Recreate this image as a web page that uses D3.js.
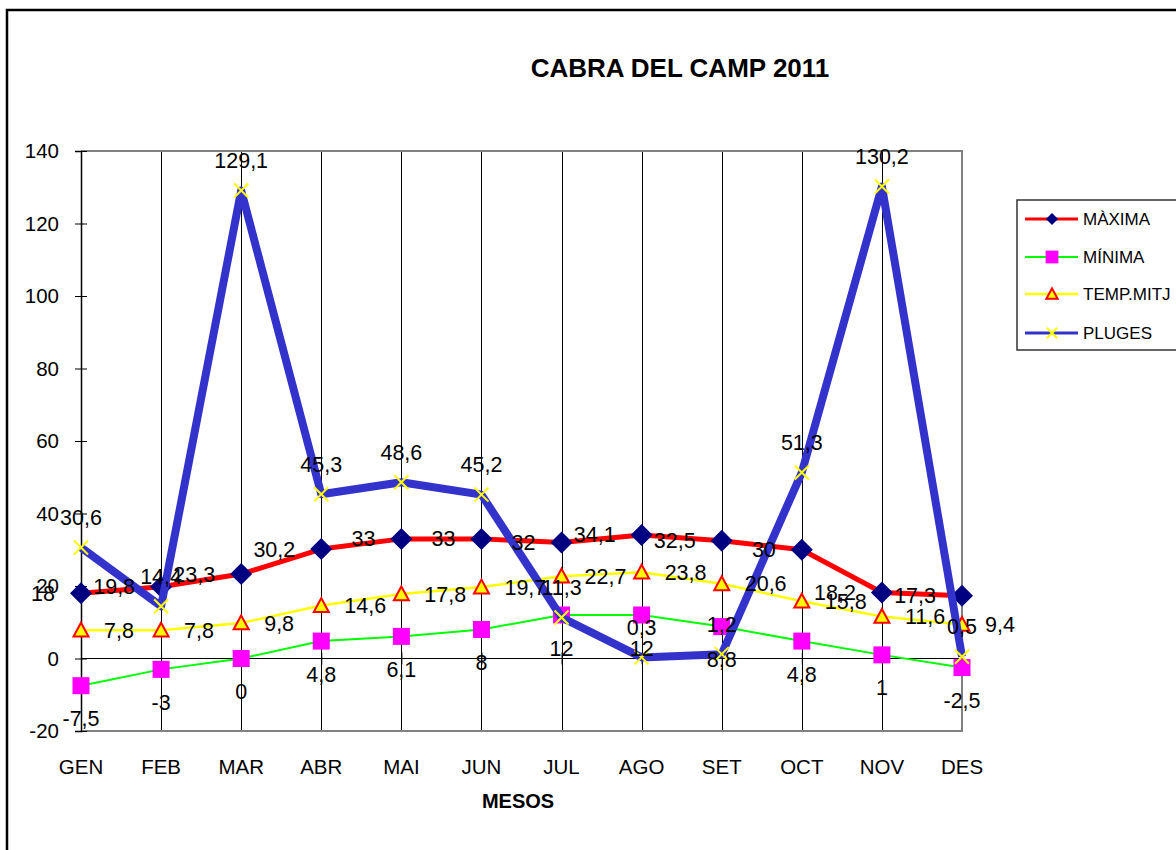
<!DOCTYPE html>
<html>
<head>
<meta charset="utf-8">
<script src="https://cdn.jsdelivr.net/npm/d3@7"></script>
<style>
  html, body { margin: 0; padding: 0; background: #fff; }
  svg { display: block; font-family: "Liberation Sans", Arial, sans-serif; }
</style>
</head>
<body>
<svg id="chart" width="1176" height="850"></svg>
<script>
const months = ["GEN","FEB","MAR","ABR","MAI","JUN","JUL","AGO","SET","OCT","NOV","DES"];
const maxima = [18, 19.8, 23.3, 30.2, 33, 33, 32, 34.1, 32.5, 30, 18.2, 17.3];
const minima = [-7.5, -3, 0, 4.8, 6.1, 8, 12, 12, 8.8, 4.8, 1, -2.5];
const tempMitj = [7.8, 7.8, 9.8, 14.6, 17.8, 19.7, 22.7, 23.8, 20.6, 15.8, 11.6, 9.4];
const pluges = [30.6, 14.4, 129.1, 45.3, 48.6, 45.2, 11.3, 0.3, 1.2, 51.3, 130.2, 0.5];
const yTicks = [-20, 0, 20, 40, 60, 80, 100, 120, 140];
const seriesNames = ["MÀXIMA", "MÍNIMA", "TEMP.MITJ", "PLUGES"];
const titleText = "CABRA DEL CAMP 2011";
const xTitle = "MESOS";

const svg = d3.select("#chart");
const fmt = v => String(v).replace(".", ",");

// chart area border
svg.append("rect").attr("x", 7).attr("y", 10).attr("width", 1300).attr("height", 1000)
  .attr("fill", "#fff").attr("stroke", "#000").attr("stroke-width", 2.5);

const x = d3.scalePoint().domain(months).range([81, 962]);
const y = d3.scaleLinear().domain([-20, 140]).range([731, 151]);

// title
svg.append("text").attr("x", 680).attr("y", 77).attr("text-anchor", "middle")
  .attr("font-size", 26).attr("font-weight", "bold").text(titleText);

// vertical gridlines
const g = svg.append("g");
g.selectAll("line.vg").data(months.slice(1, -1)).join("line")
  .attr("x1", d => Math.round(x(d)) + 0.5).attr("x2", d => Math.round(x(d)) + 0.5)
  .attr("y1", y(140)).attr("y2", y(-20))
  .attr("stroke", "#000").attr("stroke-width", 1);

// plot border (top, right, bottom)
g.append("path")
  .attr("d", `M${x("GEN")},${y(140)}H${x("DES")}V${y(-20)}H${x("GEN")}`)
  .attr("fill", "none").attr("stroke", "#808080").attr("stroke-width", 2);

// y axis
const yAxis = d3.axisLeft(y).tickValues(yTicks).tickSize(6).tickPadding(16).tickFormat(d => d);
const ya = svg.append("g").attr("transform", `translate(${x("GEN")},0)`).call(yAxis);
ya.select(".domain").attr("stroke", "#000").attr("stroke-width", 1.5);
ya.selectAll(".tick line").clone().attr("x2", 6);
ya.selectAll(".tick line").attr("stroke", "#000");
ya.selectAll("text").attr("font-size", 20.5).attr("fill", "#000")
  .attr("font-family", "Liberation Sans, Arial, sans-serif");

// zero line (category axis)
const xAxis = d3.axisBottom(x).tickSize(6).tickFormat("");
const xa = svg.append("g").attr("transform", `translate(0,${y(0)})`).call(xAxis);
xa.select(".domain").attr("d", `M${x("GEN")},0H${x("DES")}`).attr("stroke", "#000").attr("stroke-width", 1);
xa.selectAll(".tick line").attr("y1", -6).attr("y2", 6).attr("stroke", "#000");

// category labels
svg.append("g").selectAll("text").data(months).join("text")
  .attr("x", d => x(d)).attr("y", 767).attr("dy", "0.35em")
  .attr("text-anchor", "middle").attr("font-size", 20.5).text(d => d);

svg.append("text").attr("x", 518).attr("y", 801).attr("dy", "0.35em")
  .attr("text-anchor", "middle").attr("font-size", 20).attr("font-weight", "bold").text(xTitle);

// series definitions
const series = [
  { name: seriesNames[0], values: maxima, line: "#FF0000", lw: 5, marker: "diamond" },
  { name: seriesNames[1], values: minima, line: "#00FF00", lw: 2, marker: "square" },
  { name: seriesNames[2], values: tempMitj, line: "#FFFF00", lw: 2.5, marker: "triangle" },
  { name: seriesNames[3], values: pluges, line: "#3333CC", lw: 8, marker: "cross" }
];

function drawMarker(sel, type, cx, cy, scale) {
  const s = scale || 1;
  if (type === "diamond") {
    const r = 11 * s;
    sel.append("path").attr("d", `M${cx},${cy - r}L${cx + r},${cy}L${cx},${cy + r}L${cx - r},${cy}Z`)
      .attr("fill", "#000080");
  } else if (type === "square") {
    const h = 8.5 * s;
    sel.append("rect").attr("x", cx - h).attr("y", cy - h).attr("width", 2 * h).attr("height", 2 * h)
      .attr("fill", "#FF00FF");
  } else if (type === "triangle") {
    const r = 7.5 * s;
    sel.append("path").attr("d", `M${cx},${cy - r}L${cx + r},${cy + r * 0.85}L${cx - r},${cy + r * 0.85}Z`)
      .attr("fill", "#FFFF00").attr("stroke", "#FF0000").attr("stroke-width", 2);
  } else if (type === "cross") {
    const r = 7 * s;
    sel.append("path").attr("d", `M${cx - r},${cy - r}L${cx + r},${cy + r}M${cx - r},${cy + r}L${cx + r},${cy - r}`)
      .attr("stroke", "#FFFF00").attr("stroke-width", 2).attr("fill", "none");
  }
}

const lineGen = d3.line().x((d, i) => x(months[i])).y(d => y(d));
series.forEach(s => {
  const sg = svg.append("g");
  sg.append("path").attr("d", lineGen(s.values)).attr("fill", "none")
    .attr("stroke", s.line).attr("stroke-width", s.lw).attr("stroke-linejoin", "round");
  s.values.forEach((v, i) => drawMarker(sg, s.marker, x(months[i]), y(v)));
});

// data labels
const lg = svg.append("g").attr("font-size", 21.5).attr("fill", "#000");
// MÀXIMA: left
lg.selectAll("text.mx").data(maxima).join("text").attr("class", "mx")
  .attr("x", (d, i) => x(months[i]) - 26).attr("y", d => y(d)).attr("dy", "0.35em")
  .attr("text-anchor", "end").text(fmt);
// MÍNIMA: below
lg.selectAll("text.mn").data(minima).join("text").attr("class", "mn")
  .attr("x", (d, i) => x(months[i])).attr("y", d => y(d) + 33).attr("dy", "0.35em")
  .attr("text-anchor", "middle").text(fmt);
// TEMP.MITJ: right
lg.selectAll("text.tm").data(tempMitj).join("text").attr("class", "tm")
  .attr("x", (d, i) => x(months[i]) + 23).attr("y", d => y(d)).attr("dy", "0.35em")
  .attr("text-anchor", "start").text(fmt);
// PLUGES: above
lg.selectAll("text.pl").data(pluges).join("text").attr("class", "pl")
  .attr("x", (d, i) => x(months[i])).attr("y", d => y(d) - 30).attr("dy", "0.35em")
  .attr("text-anchor", "middle").text(fmt);

// legend
const leg = svg.append("g");
leg.append("rect").attr("x", 1017).attr("y", 200).attr("width", 200).attr("height", 150)
  .attr("fill", "#fff").attr("stroke", "#333").attr("stroke-width", 1.5);
const legY = [219, 257, 294, 333];
series.forEach((s, i) => {
  const ly = legY[i];
  leg.append("line").attr("x1", 1025).attr("x2", 1078).attr("y1", ly).attr("y2", ly)
    .attr("stroke", s.line).attr("stroke-width", Math.min(s.lw, 3));
  drawMarker(leg, s.marker, 1052, ly, s.marker === "diamond" ? 0.55 : 0.75);
  leg.append("text").attr("x", 1083).attr("y", ly).attr("dy", "0.35em")
    .attr("font-size", 17).text(s.name);
});
</script>
</body>
</html>
